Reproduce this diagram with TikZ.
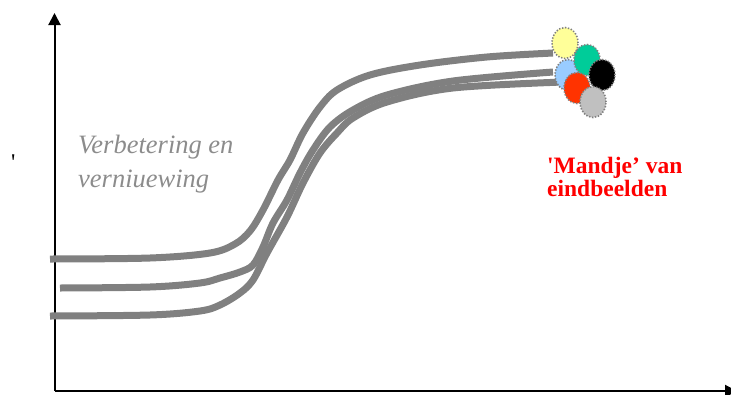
\documentclass[tikz,border=0pt]{standalone}
\usepackage{fontspec}
\setmainfont{Liberation Serif}
\newfontfamily\quoteface{Liberation Serif}[Ligatures=Common]
\usetikzlibrary{arrows.meta,shapes.geometric}
\definecolor{curvegray}{HTML}{808080}
\definecolor{textgray}{HTML}{8C8C8C}
\definecolor{byellow}{HTML}{FFFF99}
\definecolor{bgreen}{HTML}{00CC99}
\definecolor{bblue}{HTML}{99CCFF}
\definecolor{bred}{HTML}{FF3300}
\definecolor{bgrey}{HTML}{C0C0C0}
\begin{document}
\begin{tikzpicture}[x=1pt,y=-1pt,
  axis/.style={line width=2pt,-{Triangle[length=12pt,width=12pt]}},
  curve/.style={line width=7pt,draw=curvegray},
  balloon/.style={ellipse,draw=gray,line width=1.6pt,dash pattern=on 1.4pt off 1.6pt,minimum width=26pt,minimum height=31pt,inner sep=0pt},
  greytext/.style={anchor=base west,inner sep=0pt,text=textgray,font=\rmfamily\itshape\fontsize{26.5}{32}\selectfont},
  redtext/.style={anchor=base west,inner sep=0pt,text=red,font=\rmfamily\bfseries\fontsize{23.5}{28}\selectfont}]
\useasboundingbox (0,0) rectangle (731,394);
% axes
\coordinate (origin) at (54.5,391);
\coordinate (ytip) at (54.5,13);
\coordinate (xtip) at (737,391);
\draw[axis] (origin) -- (ytip);
\draw[axis] (origin) -- (xtip);
% curves
\draw[curve] plot[smooth,tension=0.55] coordinates {(50,259) (150,258) (210,253) (235,244) (250,231) (263,210) (278,180) (290,160) (303,133) (320,107) (337,90) (370,75) (420,65) (487,57) (553,53)};
\draw[curve] plot[smooth,tension=0.55] coordinates {(60,288) (150,287) (200,283) (220,278) (240,272) (253,265) (263,247) (273,223) (287,200) (300,173) (313,150) (330,127) (353,110) (387,95) (453,81) (553,72)};
\draw[curve] plot[smooth,tension=0.55] coordinates {(50,316) (150,315) (200,311) (220,305) (240,293) (253,280) (267,253) (287,217) (303,183) (320,153) (337,133) (353,118) (387,102) (453,88) (563,82)};
% balloons
\node[balloon,fill=byellow] (yellow) at (565,43) {};
\node[balloon,fill=bblue] (blue) at (568,75) {};
\node[balloon,fill=bgreen] (green) at (587,60) {};
\node[balloon,fill=black] (black) at (602,75) {};
\node[balloon,fill=bred] (redb) at (577,88) {};
\node[balloon,fill=bgrey] (grey) at (593,102) {};
% texts
\node[greytext] (g1) at (78,153) {Verbetering en};
\node[greytext] (g2) at (78,187) {verniuewing};
\node[redtext] (r1) at (547,173) {{\quoteface '}Mandje’ van};
\node[redtext] (r2) at (547,196) {eindbeelden};
\node[anchor=base west,inner sep=0pt,font=\quoteface\fontsize{24}{28}\selectfont] (mark) at (11,170) {'};
\end{tikzpicture}
\end{document}
